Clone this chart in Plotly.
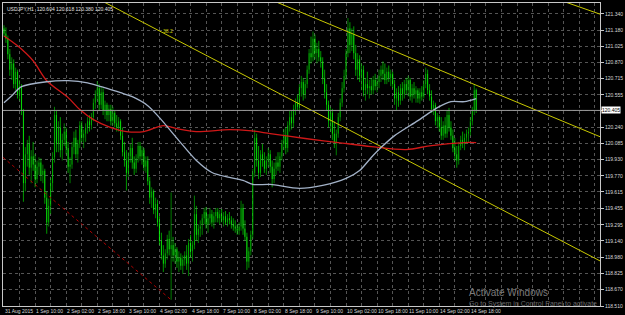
import plotly.graph_objects as go

# ---------------- data ----------------
bar_open = [
    121.20, 121.15, 121.10, 120.95, 120.80, 120.86, 120.66, 120.78, 120.56, 120.64,
    120.40, 119.70, 119.98, 120.08, 119.85, 119.96, 119.88, 119.74, 119.86, 119.90,
    119.78, 119.82, 119.56, 119.32, 119.48, 119.70, 119.95, 120.36, 120.08, 120.24,
    120.02, 120.12, 120.20, 120.04, 119.86, 119.88, 120.05, 120.14, 119.98, 120.08,
    120.26, 120.14, 120.18, 120.24, 120.30, 120.26, 120.34, 120.48, 120.56, 120.62,
    120.46, 120.58, 120.40, 120.46, 120.36, 120.42, 120.30, 120.38, 120.28, 120.24,
    120.30, 120.16, 120.00, 119.92, 119.80, 119.96, 120.04, 119.90, 119.84, 119.94,
    120.06, 119.96, 120.02, 119.86, 119.92, 119.72, 119.56, 119.62, 119.44, 119.50,
    119.32, 119.14, 119.00, 118.92, 119.02, 119.16, 119.06, 119.10, 119.00, 119.06,
    118.94, 118.98, 118.90, 118.96, 119.00, 118.92, 119.12, 119.04, 119.10, 119.40,
    119.20, 119.26, 119.30, 119.36, 119.42, 119.30, 119.36, 119.40, 119.32, 119.38,
    119.42, 119.36, 119.40, 119.34, 119.38, 119.32, 119.36, 119.34, 119.30, 119.28,
    119.26, 119.24, 119.28, 119.46, 119.26, 119.18, 118.94, 119.04, 119.20, 119.80,
    120.14, 119.92, 119.80, 119.98, 119.92, 119.84, 119.92, 119.98, 119.86, 119.74,
    119.84, 119.90, 119.86, 119.96, 120.08, 120.16, 120.04, 120.26, 120.34, 120.28,
    120.42, 120.48, 120.44, 120.62, 120.68, 120.56, 120.66, 120.80, 120.96, 120.92,
    121.10, 120.96, 121.00, 120.92, 120.88, 120.72, 120.58, 120.46, 120.30, 120.38,
    120.18, 120.10, 120.18, 120.34, 120.48, 120.62, 120.74, 120.96, 121.20, 121.04,
    121.14, 120.96, 120.80, 120.90, 120.74, 120.80, 120.60, 120.66, 120.62, 120.64,
    120.60, 120.70, 120.64, 120.68, 120.74, 120.80, 120.76, 120.70, 120.78, 120.72,
    120.76, 120.66, 120.52, 120.58, 120.50, 120.62, 120.56, 120.66, 120.60, 120.70,
    120.54, 120.62, 120.56, 120.60, 120.52, 120.58, 120.54, 120.66, 120.76, 120.60,
    120.54, 120.42, 120.46, 120.30, 120.34, 120.24, 120.16, 120.26, 120.18, 120.36,
    120.24, 120.16, 120.04, 119.98, 119.92, 120.06, 120.12, 120.08, 120.14, 120.18,
    120.20, 120.30, 120.40, 120.604,
]
bar_high = [
    121.23, 121.21, 121.13, 121.00, 120.92, 120.90, 120.82, 120.80, 120.70, 120.66,
    120.42, 120.05, 120.12, 120.16, 120.02, 120.10, 119.98, 119.92, 119.95, 119.94,
    119.88, 119.84, 119.62, 119.55, 119.75, 120.00, 120.44, 120.40, 120.30, 120.34,
    120.18, 120.28, 120.24, 120.10, 119.95, 120.10, 120.20, 120.22, 120.12, 120.30,
    120.30, 120.22, 120.28, 120.34, 120.36, 120.38, 120.52, 120.60, 120.69, 120.66,
    120.64, 120.62, 120.50, 120.48, 120.46, 120.46, 120.44, 120.40, 120.36, 120.34,
    120.32, 120.24, 120.10, 120.02, 120.00, 120.08, 120.14, 119.96, 119.98, 120.10,
    120.10, 120.06, 120.04, 119.96, 119.96, 119.76, 119.66, 119.64, 119.56, 119.54,
    119.38, 119.22, 119.10, 119.06, 119.20, 119.24, 119.61, 119.18, 119.12, 119.08,
    119.04, 119.02, 119.00, 119.04, 119.10, 119.16, 119.20, 119.14, 119.58, 119.48,
    119.30, 119.34, 119.40, 119.46, 119.47, 119.40, 119.46, 119.44, 119.42, 119.46,
    119.46, 119.44, 119.45, 119.42, 119.43, 119.40, 119.42, 119.38, 119.36, 119.34,
    119.30, 119.32, 119.53, 119.50, 119.34, 119.22, 119.08, 119.24, 119.84, 120.22,
    120.18, 120.06, 120.02, 120.08, 120.00, 119.96, 120.04, 120.02, 119.92, 119.90,
    119.96, 120.00, 120.00, 120.12, 120.22, 120.24, 120.30, 120.40, 120.40, 120.46,
    120.52, 120.56, 120.66, 120.74, 120.72, 120.70, 120.84, 121.00, 121.12, 121.17,
    121.14, 121.06, 121.08, 120.98, 120.92, 120.80, 120.66, 120.50, 120.44, 120.42,
    120.30, 120.22, 120.38, 120.52, 120.68, 120.80, 121.00, 121.30, 121.26, 121.20,
    121.22, 121.04, 120.96, 120.94, 120.86, 120.84, 120.72, 120.78, 120.70, 120.72,
    120.74, 120.76, 120.72, 120.80, 120.84, 120.88, 120.86, 120.82, 120.84, 120.80,
    120.78, 120.70, 120.62, 120.64, 120.66, 120.68, 120.70, 120.72, 120.74, 120.72,
    120.66, 120.68, 120.64, 120.62, 120.62, 120.64, 120.70, 120.82, 120.80, 120.66,
    120.60, 120.50, 120.48, 120.38, 120.36, 120.34, 120.30, 120.34, 120.40, 120.43,
    120.30, 120.22, 120.14, 120.06, 120.10, 120.16, 120.20, 120.18, 120.22, 120.24,
    120.34, 120.44, 120.66, 120.618,
]
bar_low = [
    121.12, 121.06, 120.90, 120.74, 120.70, 120.62, 120.60, 120.52, 120.50, 120.36,
    119.52, 119.62, 119.86, 119.78, 119.70, 119.82, 119.66, 119.70, 119.78, 119.72,
    119.70, 119.50, 119.21, 119.28, 119.40, 119.62, 119.90, 120.00, 120.00, 119.95,
    119.92, 120.06, 119.98, 119.80, 119.70, 119.84, 119.98, 119.94, 119.90, 120.04,
    120.10, 120.04, 120.10, 120.18, 120.20, 120.22, 120.30, 120.42, 120.50, 120.40,
    120.42, 120.36, 120.32, 120.30, 120.30, 120.26, 120.26, 120.24, 120.20, 120.20,
    120.12, 119.96, 119.86, 119.63, 119.76, 119.90, 119.84, 119.78, 119.80, 119.90,
    119.92, 119.88, 119.82, 119.80, 119.68, 119.50, 119.46, 119.40, 119.36, 119.28,
    119.10, 118.96, 118.84, 118.88, 118.96, 119.00, 118.57, 118.94, 118.92, 118.88,
    118.84, 118.86, 118.82, 118.90, 118.86, 118.80, 118.98, 118.94, 119.06, 119.14,
    119.12, 119.18, 119.20, 119.30, 119.26, 119.22, 119.30, 119.28, 119.26, 119.32,
    119.32, 119.30, 119.32, 119.28, 119.30, 119.28, 119.30, 119.26, 119.24, 119.22,
    119.20, 119.20, 119.24, 119.20, 119.14, 118.86, 118.88, 119.00, 119.16, 119.76,
    119.86, 119.74, 119.76, 119.86, 119.80, 119.78, 119.86, 119.80, 119.66, 119.70,
    119.78, 119.82, 119.80, 119.92, 120.02, 119.98, 120.00, 120.20, 120.22, 120.24,
    120.36, 120.40, 120.40, 120.54, 120.50, 120.52, 120.62, 120.76, 120.86, 120.88,
    120.90, 120.86, 120.88, 120.82, 120.66, 120.52, 120.40, 120.24, 120.20, 120.12,
    120.04, 119.97, 120.14, 120.30, 120.44, 120.58, 120.70, 120.92, 120.96, 120.98,
    120.90, 120.74, 120.70, 120.68, 120.60, 120.54, 120.50, 120.56, 120.52, 120.56,
    120.56, 120.60, 120.58, 120.62, 120.68, 120.70, 120.66, 120.66, 120.68, 120.64,
    120.62, 120.46, 120.40, 120.44, 120.46, 120.50, 120.52, 120.56, 120.54, 120.50,
    120.48, 120.52, 120.48, 120.48, 120.47, 120.50, 120.52, 120.62, 120.56, 120.50,
    120.38, 120.36, 120.26, 120.24, 120.20, 120.12, 120.12, 120.14, 120.14, 120.20,
    120.12, 120.00, 119.92, 119.85, 119.88, 120.02, 120.04, 120.02, 120.08, 120.10,
    120.16, 120.26, 120.36, 120.380,
]
bar_close = [
    121.15, 121.10, 120.95, 120.80, 120.86, 120.66, 120.78, 120.56, 120.64, 120.40,
    119.70, 119.98, 120.08, 119.85, 119.96, 119.88, 119.74, 119.86, 119.90, 119.78,
    119.82, 119.56, 119.32, 119.48, 119.70, 119.95, 120.36, 120.08, 120.24, 120.02,
    120.12, 120.20, 120.04, 119.86, 119.88, 120.05, 120.14, 119.98, 120.08, 120.26,
    120.14, 120.18, 120.24, 120.30, 120.26, 120.34, 120.48, 120.56, 120.62, 120.46,
    120.58, 120.40, 120.46, 120.36, 120.42, 120.30, 120.38, 120.28, 120.24, 120.30,
    120.16, 120.00, 119.92, 119.80, 119.96, 120.04, 119.90, 119.84, 119.94, 120.06,
    119.96, 120.02, 119.86, 119.92, 119.72, 119.56, 119.62, 119.44, 119.50, 119.32,
    119.14, 119.00, 118.92, 119.02, 119.16, 119.06, 119.10, 119.00, 119.06, 118.94,
    118.98, 118.90, 118.96, 119.00, 118.92, 119.12, 119.04, 119.10, 119.40, 119.20,
    119.26, 119.28, 119.36, 119.42, 119.30, 119.36, 119.40, 119.32, 119.38, 119.42,
    119.36, 119.40, 119.34, 119.38, 119.32, 119.36, 119.34, 119.30, 119.28, 119.26,
    119.24, 119.28, 119.46, 119.26, 119.18, 118.94, 119.04, 119.20, 119.80, 120.14,
    119.92, 119.80, 119.98, 119.92, 119.84, 119.92, 119.98, 119.86, 119.74, 119.84,
    119.90, 119.86, 119.96, 120.08, 120.16, 120.04, 120.26, 120.34, 120.28, 120.42,
    120.48, 120.44, 120.62, 120.68, 120.56, 120.66, 120.80, 120.96, 120.92, 121.10,
    120.96, 121.00, 120.92, 120.88, 120.72, 120.58, 120.46, 120.30, 120.38, 120.18,
    120.10, 120.18, 120.34, 120.48, 120.62, 120.74, 120.96, 121.20, 121.04, 121.14,
    120.96, 120.80, 120.90, 120.74, 120.80, 120.60, 120.66, 120.62, 120.64, 120.60,
    120.70, 120.64, 120.68, 120.74, 120.80, 120.76, 120.70, 120.78, 120.72, 120.76,
    120.66, 120.52, 120.58, 120.50, 120.62, 120.56, 120.66, 120.60, 120.70, 120.54,
    120.62, 120.56, 120.60, 120.52, 120.58, 120.54, 120.66, 120.76, 120.60, 120.54,
    120.42, 120.46, 120.30, 120.34, 120.24, 120.16, 120.26, 120.18, 120.36, 120.24,
    120.16, 120.04, 119.98, 119.92, 120.06, 120.12, 120.08, 120.14, 120.18, 120.20,
    120.30, 120.40, 120.60, 120.405,
]
bar_index = list(range(len(bar_close)))

# moving averages, sampled along the drawn curves (bar index, price)
red_ma_idx = [0, 7, 15, 22, 33, 39, 46, 55, 63, 72, 82, 89, 99, 116, 126, 137, 155, 172, 189, 207, 220, 237, 243]
red_ma_val = [121.127, 121.031, 120.886, 120.693, 120.529, 120.413, 120.316, 120.239, 120.200, 120.200,
              120.258, 120.229, 120.200, 120.219, 120.210, 120.181, 120.133, 120.094, 120.055, 120.026,
              120.065, 120.094, 120.094]
grey_ma_idx = [0, 4, 9, 22, 33, 43, 50, 60, 66, 74, 80, 90, 99, 107, 116, 123, 128, 137, 152, 164,
               176, 183, 189, 194, 201, 213, 223, 230, 237, 243]
grey_ma_val = [120.480, 120.548, 120.635, 120.683, 120.693, 120.673, 120.635, 120.577, 120.538, 120.451,
               120.335, 120.113, 119.920, 119.804, 119.756, 119.727, 119.688, 119.688, 119.649, 119.678,
               119.746, 119.823, 119.949, 120.045, 120.161, 120.306, 120.432, 120.490, 120.490, 120.519]

# trend lines (bar index, price)
chan_lower_idx = [50, 307]
chan_lower_val = [121.470, 118.944]
chan_upper_idx = [130, 307]
chan_upper_val = [121.535, 120.148]
chan_top_idx = [285, 307]
chan_top_val = [121.481, 121.336]
red_dot_idx = [-0.5, 86]
red_dot_val = [119.95, 118.57]
fib_label = "38.2"
fib_idx = 84.5
fib_val = 121.17

price_ticks = [121.340, 121.180, 121.025, 120.870, 120.715, 120.555, 120.400, 120.240, 120.085,
               119.930, 119.770, 119.615, 119.455, 119.295, 119.140, 118.980, 118.825, 118.670, 118.510]
price_tick_text = ["121.340", "121.180", "121.025", "120.870", "120.715", "120.555", "", "120.240", "120.085",
                   "119.930", "119.770", "119.615", "119.455", "119.295", "119.140", "118.980", "118.825",
                   "118.670", "118.510"]
date_tick_idx = [0, 16, 32, 48, 64, 80, 96, 112, 128, 144, 160, 176, 192, 208, 224, 240]
date_tick_text = ["31 Aug 2015", "1 Sep 10:00", "2 Sep 02:00", "2 Sep 18:00", "3 Sep 10:00", "4 Sep 02:00",
                  "4 Sep 18:00", "7 Sep 10:00", "8 Sep 02:00", "8 Sep 18:00", "9 Sep 10:00", "10 Sep 02:00",
                  "10 Sep 18:00", "11 Sep 10:00", "14 Sep 02:00", "14 Sep 18:00"]
grid_idx = list(range(0, 307, 8))
bid_price = 120.405
title_text = "USDJPY,H1  120.604 120.618 120.380 120.405"
watermark_1 = "Activate Windows"
watermark_2 = "Go to System in Control Panel to activate"

# ---------------- figure ----------------
FONT = "Liberation Sans, Arial, sans-serif"
fig = go.Figure()

# red dotted line
fig.add_trace(go.Scatter(x=red_dot_idx, y=red_dot_val, mode="lines",
                         line=dict(color="#b00000", width=1, dash="dot"), hoverinfo="skip"))
# yellow trend lines
for xs, ys in [(chan_lower_idx, chan_lower_val), (chan_upper_idx, chan_upper_val), (chan_top_idx, chan_top_val)]:
    fig.add_trace(go.Scatter(x=xs, y=ys, mode="lines",
                             line=dict(color="#c8c800", width=1), hoverinfo="skip"))

fig.add_trace(go.Candlestick(
    x=bar_index, open=bar_open, high=bar_high, low=bar_low, close=bar_close,
    increasing=dict(line=dict(color="#00d000", width=0.6), fillcolor="#004400"),
    decreasing=dict(line=dict(color="#00ff00", width=0.6), fillcolor="#d0ffd0"),
    whiskerwidth=0, hoverinfo="skip",
))

fig.add_trace(go.Scatter(x=red_ma_idx, y=red_ma_val, mode="lines",
                         line=dict(color="#d01818", width=1.3, shape="spline", smoothing=0.8), hoverinfo="skip"))
fig.add_trace(go.Scatter(x=grey_ma_idx, y=grey_ma_val, mode="lines",
                         line=dict(color="#a3b2c8", width=1.3, shape="spline", smoothing=0.8), hoverinfo="skip"))

annotations = []
for xi, txt in zip(date_tick_idx, date_tick_text):
    annotations.append(dict(x=xi, y=0, xref="x", yref="paper", text=txt, showarrow=False,
                            xanchor="left", yanchor="top", xshift=-1, yshift=0,
                            font=dict(family=FONT, size=5, color="#d8d8d8")))
annotations.append(dict(x=0, y=1, xref="paper", yref="paper", text=title_text, showarrow=False,
                        xanchor="left", yanchor="top", xshift=2, yshift=-1,
                        font=dict(family=FONT, size=5, color="#e0e0e0")))
annotations.append(dict(x=fib_idx, y=fib_val, xref="x", yref="y", text=fib_label, showarrow=False,
                        xanchor="center", yanchor="middle",
                        font=dict(family=FONT, size=5, color="#c8c800")))
annotations.append(dict(x=1, y=bid_price, xref="paper", yref="y", text=str(bid_price).ljust(7, "0"),
                        showarrow=False, xanchor="left", yanchor="middle", xshift=1,
                        bgcolor="#ffffff", borderpad=0,
                        font=dict(family=FONT, size=5, color="#000000")))
annotations.append(dict(x=0.777, y=0, xref="paper", yref="paper", text=watermark_1, showarrow=False,
                        xanchor="left", yanchor="bottom", yshift=6,
                        font=dict(family=FONT, size=10, color="#7a7a7a")))
annotations.append(dict(x=0.777, y=0, xref="paper", yref="paper", text=watermark_2, showarrow=False,
                        xanchor="left", yanchor="bottom", yshift=-4,
                        font=dict(family=FONT, size=7, color="#6a6a6a")))

fig.update_layout(
    width=625, height=315,
    margin=dict(l=2, r=22, t=2, b=9),
    paper_bgcolor="#000000", plot_bgcolor="#000000",
    showlegend=False,
    boxgap=0.9,
    annotations=annotations,
    shapes=[dict(type="line", xref="paper", x0=0, x1=1, yref="y", y0=bid_price, y1=bid_price,
                 line=dict(color="#9a9a9a", width=1))],
    xaxis=dict(range=[-0.51, 306.7], tickvals=grid_idx, showticklabels=False,
               showgrid=True, gridcolor="#555555", griddash="dot", gridwidth=1,
               zeroline=False, showline=True, mirror=True, linecolor="#c8c8c8", linewidth=1,
               ticks="", rangeslider=dict(visible=False), fixedrange=True),
    yaxis=dict(range=[118.510, 121.446], side="right", tickvals=price_ticks, ticktext=price_tick_text,
               showgrid=True, gridcolor="#555555", griddash="dot", gridwidth=1,
               zeroline=False, showline=True, mirror=True, linecolor="#c8c8c8", linewidth=1,
               ticks="outside", ticklen=3, tickcolor="#c8c8c8",
               tickfont=dict(family=FONT, size=5, color="#d8d8d8"), fixedrange=True),
)

fig.write_html("out.html")
